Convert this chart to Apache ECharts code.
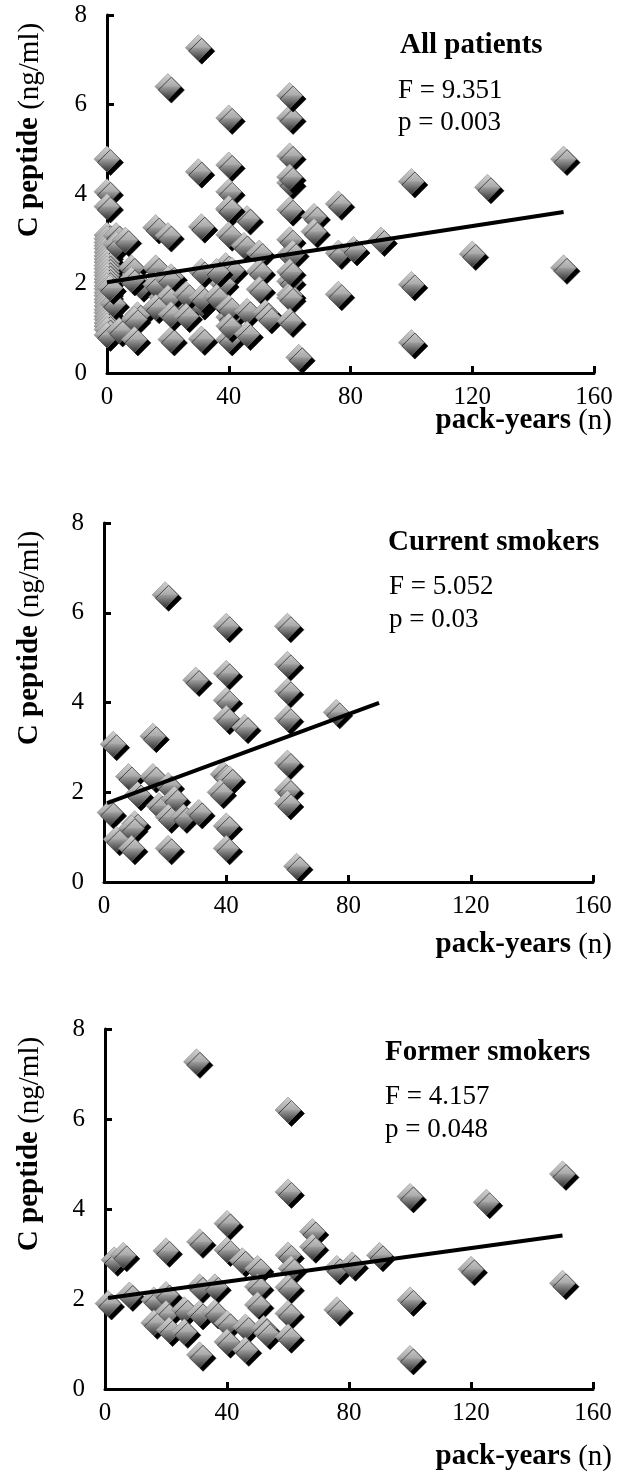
<!DOCTYPE html>
<html><head><meta charset="utf-8">
<script src="https://cdn.jsdelivr.net/npm/echarts@6/dist/echarts.min.js"></script>
<style>html,body{margin:0;padding:0;background:#fff}#c{width:618px;height:1477px}</style>
</head><body><div id="c"></div>
<script>
// ---- data ----
const xTickValues = [0, 40, 80, 120, 160];
const yTickValues = [0, 2, 4, 6, 8];

// never smokers (pack-years = 0), only in "All patients"
const neverSmokers = [
  [0,4.78],[0,4.05],[0,3.72],[0,3.08],[0,3.0],[0,2.92],[0,2.85],[0,2.78],[0,2.7],[0,2.62],
  [0,2.55],[0,2.48],[0,2.4],[0,2.33],[0,2.25],[0,2.18],[0,2.1],[0,2.03],[0,1.95],[0,1.88],
  [0,1.8],[0,1.73],[0,1.65],[0,1.58],[0,1.5],[0,1.42],[0,1.35],[0,1.27],[0,1.2],[0,1.12],
  [0,1.05],[0,0.97],[0,0.85]
];
const currentSmokers = [
  [20,6.4],[40,5.7],[60,5.7],[60,4.85],[30,4.5],[40,4.65],[60,4.25],[40,4.05],
  [40,3.65],[46,3.45],[60,3.65],[76,3.78],[3,3.07],[16,3.25],[60,2.65],[8,2.35],
  [16,2.35],[21,2.15],[39,2.4],[41,2.3],[38,2.0],[60,2.05],[60,1.75],[11,1.95],
  [18,1.7],[23,1.85],[2,1.55],[21,1.45],[26,1.45],[31,1.55],[10,1.3],[9,1.2],
  [40,1.25],[4,0.95],[9,0.75],[21,0.75],[40,0.75],[63,0.35]
];
const formerSmokers = [
  [30,7.27],[60,6.2],[60,4.38],[100,4.28],[125,4.15],[150,4.78],[76,2.68],[81,2.76],
  [90,2.97],[120,2.66],[150,2.35],[100,1.98],[76,1.76],[100,0.68],[40,3.68],[68,3.5],
  [68,3.16],[31,3.27],[20,3.07],[40,3.09],[3,2.87],[6,2.97],[45,2.85],[50,2.68],
  [60,2.98],[61,2.68],[60,2.26],[50,2.27],[31,2.27],[36,2.27],[8,2.09],[1,1.9],
  [16,1.98],[20,2.1],[50,1.87],[60,1.68],[20,1.68],[26,1.76],[31,1.68],[36,1.7],
  [16,1.47],[21,1.31],[26,1.27],[40,1.46],[46,1.38],[52,1.35],[53,1.24],[60,1.16],
  [40,1.05],[46,0.87],[31,0.76]
];
const allPatients = neverSmokers.concat(currentSmokers, formerSmokers);

const fitAll = [[0,2.03],[150,3.6]];
const fitCurrent = [[1,1.76],[90,3.99]];
const fitFormer = [[1,2.02],[150,3.41]];

const panelTitles = ['All patients', 'Current smokers', 'Former smokers'];
const fStats = ['F = 9.351', 'F = 5.052', 'F = 4.157'];
const pStats = ['p = 0.003', 'p = 0.03', 'p = 0.048'];
const yName = ['C peptide', '(ng/ml)'];
const xName = ['pack-years', '(n)'];

// ---- layout ----
const FONT = '"Liberation Serif", "Times New Roman", serif';
const grids = [
  {left:107, top:15, width:487, height:358},
  {left:104, top:523, width:489, height:359},
  {left:105, top:1029, width:488, height:360}
];
const textPos = [
  {tx:400, ty:46, fx:398, fy:91, py:123, yname:130, xname:421},
  {tx:388, ty:543, fx:389, fy:587, py:620, yname:638, xname:945},
  {tx:385, ty:1053, fx:385, fy:1097, py:1130, yname:1144, xname:1457}
];

function xAxisCfg(i){
  return {gridIndex:i, type:'value', min:0, max:160, interval:40,
    axisLine:{show:true, onZero:false, lineStyle:{color:'#000', width:3}},
    axisTick:{show:true, inside:true, length:7, lineStyle:{color:'#000', width:3}},
    axisLabel:{color:'#000', fontSize:25, fontFamily:FONT, margin:12},
    splitLine:{show:false}};
}
function yAxisCfg(i){
  return {gridIndex:i, type:'value', min:0, max:8, interval:2,
    axisLine:{show:true, onZero:false, lineStyle:{color:'#000', width:3}},
    axisTick:{show:true, inside:true, length:7, lineStyle:{color:'#000', width:3}},
    axisLabel:{color:'#000', fontSize:25, fontFamily:FONT, margin:20},
    splitLine:{show:false}};
}
const markerStyle = {
  color: {type:'linear', x:0, y:0, x2:0, y2:1, colorStops:[
    {offset:0, color:'#d2d2d2'}, {offset:0.48, color:'#ababab'},
    {offset:0.52, color:'#999999'}, {offset:1, color:'#2e2e2e'}]},
  borderColor:'#8a8a8a', borderWidth:0.6,
  shadowColor:'#000', shadowBlur:0, shadowOffsetX:3.5, shadowOffsetY:3.5,
  opacity:1
};
function scatter(i, data){
  return {type:'scatter', xAxisIndex:i, yAxisIndex:i, data:data, symbol:'diamond',
    symbolSize:26, itemStyle:markerStyle, silent:true, animation:false};
}
function fit(i, data){
  return {type:'line', xAxisIndex:i, yAxisIndex:i, data:data, symbol:'none',
    lineStyle:{color:'#000', width:4}, z:5, silent:true, animation:false};
}
const graphics = [];
textPos.forEach((p, i) => {
  graphics.push({type:'text', x:p.tx, y:p.ty, style:{text:panelTitles[i], font:'bold 29px ' + FONT, fill:'#000', align:'left', verticalAlign:'middle'}});
  graphics.push({type:'text', x:p.fx, y:p.fy, style:{text:fStats[i], font:'27px ' + FONT, fill:'#000', align:'left', verticalAlign:'middle'}});
  graphics.push({type:'text', x:p.fx, y:p.py, style:{text:pStats[i], font:'27px ' + FONT, fill:'#000', align:'left', verticalAlign:'middle'}});
  graphics.push({type:'text', x:30, y:p.yname, rotation:Math.PI/2, style:{
    text:'{b|' + yName[0] + '\u00a0}{r|' + yName[1] + '}', align:'center', verticalAlign:'middle', fill:'#000',
    rich:{b:{fontWeight:'bold', fontSize:29, fontFamily:FONT, fill:'#000'}, r:{fontSize:29, fontFamily:FONT, fill:'#000'}}}});
  graphics.push({type:'text', x:612, y:p.xname, style:{
    text:'{b|' + xName[0] + '\u00a0}{r|' + xName[1] + '}', align:'right', verticalAlign:'middle', fill:'#000',
    rich:{b:{fontWeight:'bold', fontSize:29, fontFamily:FONT, fill:'#000'}, r:{fontSize:29, fontFamily:FONT, fill:'#000'}}}});
});

const chart = echarts.init(document.getElementById('c'), null, {renderer:'canvas'});
chart.setOption({
  animation:false,
  backgroundColor:'#fff',
  grid:grids,
  xAxis:[xAxisCfg(0), xAxisCfg(1), xAxisCfg(2)],
  yAxis:[yAxisCfg(0), yAxisCfg(1), yAxisCfg(2)],
  series:[scatter(0, allPatients), fit(0, fitAll),
          scatter(1, currentSmokers), fit(1, fitCurrent),
          scatter(2, formerSmokers), fit(2, fitFormer)],
  graphic:graphics
});
</script>
</body></html>
